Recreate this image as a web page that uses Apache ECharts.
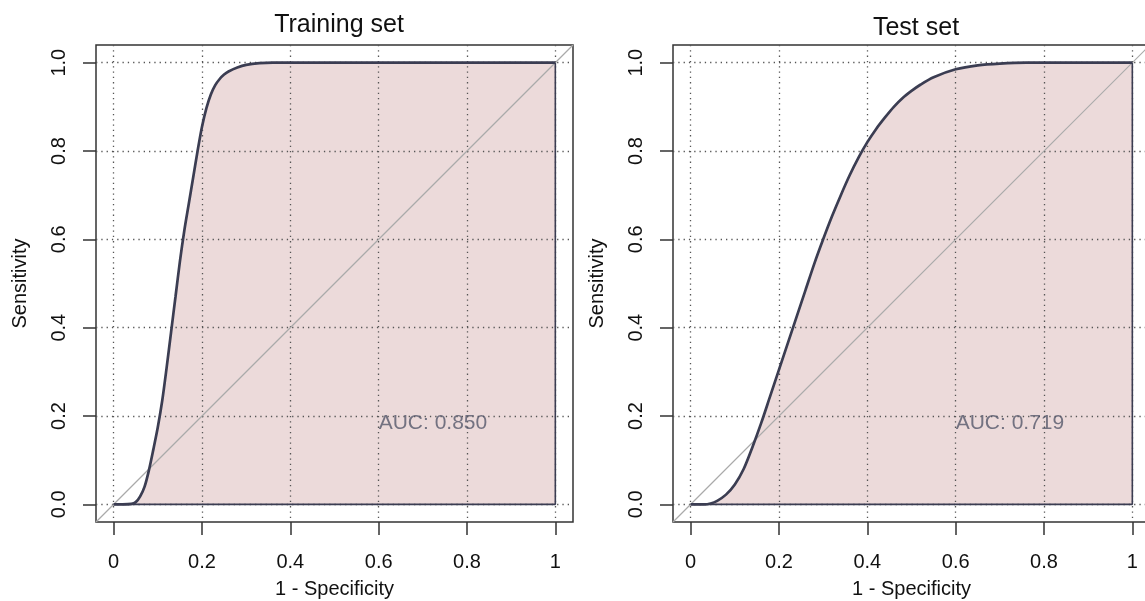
<!DOCTYPE html>
<html>
<head>
<meta charset="utf-8">
<script src="https://cdn.jsdelivr.net/npm/echarts@6/dist/echarts.min.js"></script>
<style>
  html, body { margin: 0; padding: 0; background: #fff; }
  #roc { width: 1145px; height: 601px; }
</style>
</head>
<body>
<div id="roc"></div>
<script>
// smoothed ROC curves (x = 1 - specificity, y = sensitivity)
const trainFpr = [0, 0.02, 0.04, 0.05, 0.06, 0.07, 0.08, 0.09, 0.10, 0.11, 0.12, 0.13, 0.14, 0.15,
  0.16, 0.17, 0.18, 0.19, 0.20, 0.21, 0.22, 0.23, 0.24, 0.25, 0.26, 0.28, 0.30, 0.33, 0.36, 1.0];
const trainTpr = [0, 0, 0.001, 0.005, 0.018, 0.040, 0.078, 0.125, 0.175, 0.235, 0.31, 0.39, 0.47, 0.55,
  0.62, 0.68, 0.74, 0.80, 0.855, 0.897, 0.928, 0.949, 0.963, 0.973, 0.980, 0.989, 0.995, 0.999, 1.0, 1.0];
const testFpr = [0, 0.03, 0.045, 0.06, 0.08, 0.10, 0.12, 0.14, 0.16, 0.18, 0.20, 0.22, 0.24, 0.26,
  0.28, 0.30, 0.32, 0.34, 0.36, 0.38, 0.40, 0.42, 0.44, 0.46, 0.48, 0.50, 0.52, 0.55, 0.60, 0.65,
  0.70, 0.76, 1.0];
const testTpr = [0, 0, 0.002, 0.008, 0.022, 0.045, 0.08, 0.13, 0.185, 0.245, 0.305, 0.365, 0.425, 0.485,
  0.545, 0.60, 0.652, 0.70, 0.745, 0.785, 0.82, 0.85, 0.876, 0.90, 0.92, 0.936, 0.95, 0.967, 0.985, 0.994,
  0.998, 1.0, 1.0];
const aucValues = ["0.850", "0.719"];
const panelTitles = ["Training set", "Test set"];
const tickValues = [0, 0.2, 0.4, 0.6, 0.8, 1];
const xTickLabels = ["0", "0.2", "0.4", "0.6", "0.8", "1"];
const yTickLabels = ["0.0", "0.2", "0.4", "0.6", "0.8", "1.0"];
const aucPos = [0.6, 0.2];

const FONT = "Liberation Sans";
const curveColor = "#3b3d52";
const fillColor = "#ecdada";
const axMin = -0.04, axMax = 1.04;

const panels = [
  { fpr: trainFpr, tpr: trainTpr, left: 96, titleTop: 8 },
  { fpr: testFpr, tpr: testTpr, left: 673, titleTop: 11 },
];

function zip(a, b) {
  return a.map((v, i) => [v, b[i]]);
}

let option = {
  animation: false,
  backgroundColor: "#fff",
  title: [],
  grid: [],
  xAxis: [],
  yAxis: [],
  series: [],
};

panels.forEach((p, i) => {
  option.title.push({
    text: panelTitles[i],
    left: p.left + 238,
    top: p.titleTop,
    textAlign: "center",
    textStyle: { fontFamily: FONT, fontSize: 25, fontWeight: "normal", color: "#111" },
  });
  option.grid.push({
    left: p.left, top: 45, width: 477, height: 477,
    outerBoundsMode: "none",
    show: true, borderColor: "#333", borderWidth: 1.5, backgroundColor: "transparent",
  });
  option.xAxis.push({
    gridIndex: i, type: "value", min: axMin, max: axMax, z: 2,
    name: "1 - Specificity", nameLocation: "middle", nameGap: 57,
    nameTextStyle: { fontFamily: FONT, fontSize: 20, color: "#111" },
    axisLine: { show: false, onZero: false },
    axisTick: { show: true, length: 13, customValues: tickValues, lineStyle: { color: "#333", width: 1.5 } },
    axisLabel: {
      customValues: tickValues, margin: 30, fontFamily: FONT, fontSize: 20, color: "#111",
      formatter: (v) => xTickLabels[tickValues.indexOf(Math.round(v * 10) / 10)],
    },
    splitLine: { show: true, lineStyle: { color: "#555", width: 1.3, type: [1.3, 4] } },
  });
  option.yAxis.push({
    gridIndex: i, type: "value", min: axMin, max: axMax, z: 2,
    name: "Sensitivity", nameLocation: "middle", nameGap: 66,
    nameTextStyle: { fontFamily: FONT, fontSize: 20, color: "#111" },
    axisLine: { show: false, onZero: false },
    axisTick: { show: true, length: 13, customValues: tickValues, lineStyle: { color: "#333", width: 1.5 } },
    axisLabel: {
      customValues: tickValues, margin: 27, rotate: 90, fontFamily: FONT, fontSize: 20, color: "#111",
      formatter: (v) => yTickLabels[tickValues.indexOf(Math.round(v * 10) / 10)],
    },
    splitLine: { show: true, lineStyle: { color: "#555", width: 1.3, type: [1.3, 4] } },
  });

  const n = p.fpr.length;
  // shaded area under the curve
  option.series.push({
    type: "line", xAxisIndex: i, yAxisIndex: i, z: 1, symbol: "none", smooth: 0.3,
    data: zip(p.fpr, p.tpr),
    lineStyle: { width: 0 },
    areaStyle: { color: fillColor, opacity: 1, origin: 0 },
  });
  // chance diagonal
  option.series.push({
    type: "line", xAxisIndex: i, yAxisIndex: i, z: 3, symbol: "none",
    data: [[axMin, axMin], [axMax, axMax]],
    lineStyle: { color: "#aaa", width: 1.2 },
  });
  // polygon closure (bottom and right edges)
  option.series.push({
    type: "line", xAxisIndex: i, yAxisIndex: i, z: 4, symbol: "none",
    data: [[p.fpr[0], p.tpr[0]], [p.fpr[n - 1], p.tpr[0]], [p.fpr[n - 1], p.tpr[n - 1]]],
    lineStyle: { color: curveColor, width: 1.6 },
  });
  // ROC curve
  option.series.push({
    type: "line", xAxisIndex: i, yAxisIndex: i, z: 5, symbol: "none", smooth: 0.3,
    data: zip(p.fpr, p.tpr),
    lineStyle: { color: curveColor, width: 2.7 },
  });
  // AUC text
  option.series.push({
    type: "scatter", xAxisIndex: i, yAxisIndex: i, z: 6, symbolSize: 0,
    data: [aucPos],
    label: {
      show: true, position: [0, -3], align: "left", verticalAlign: "top",
      formatter: "AUC: " + aucValues[i],
      fontFamily: FONT, fontSize: 21, color: "#55586a",
    },
  });
});

const chartMy = echarts.init(document.getElementById("roc"));
chartMy.setOption(option);
</script>
</body>
</html>
